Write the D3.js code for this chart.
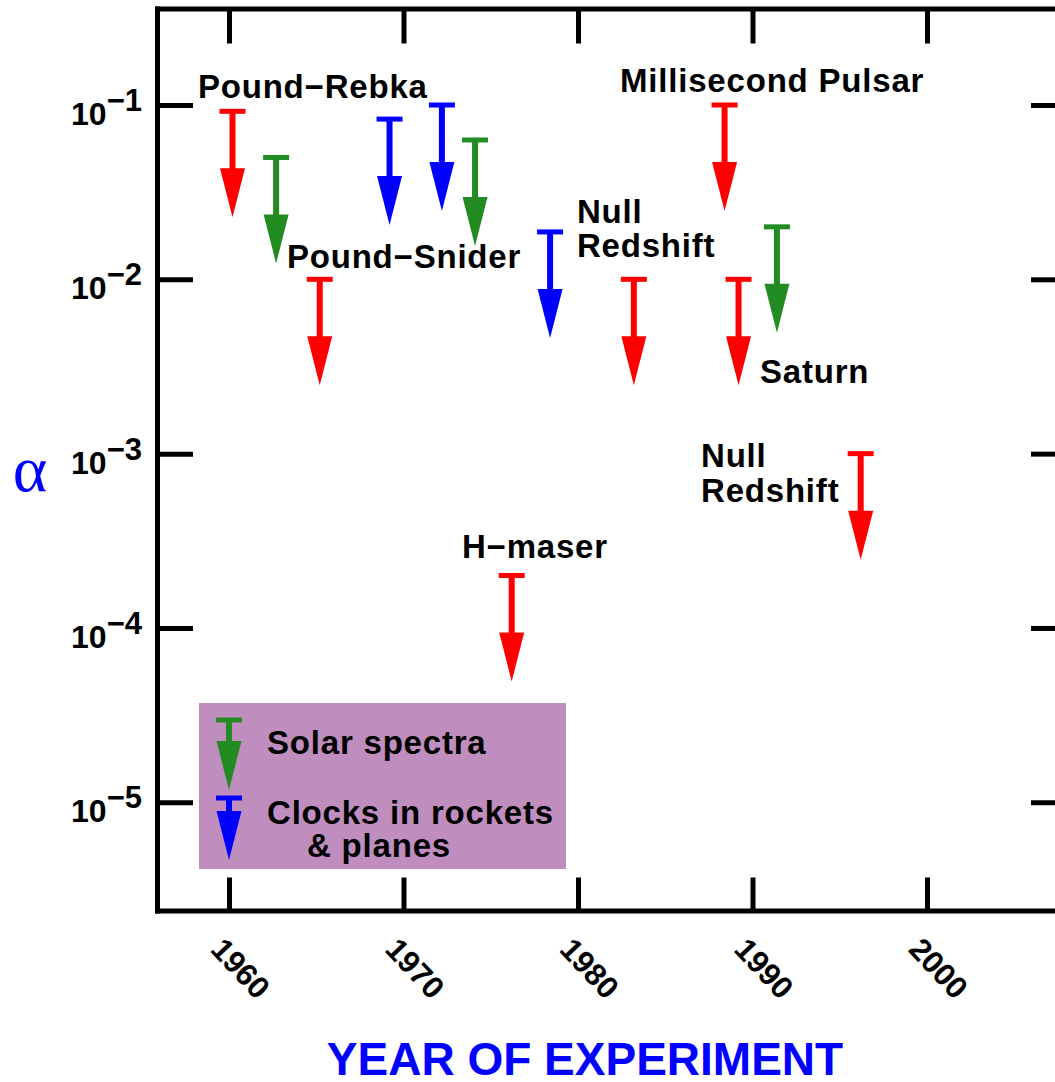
<!DOCTYPE html>
<html>
<head>
<meta charset="utf-8">
<script src="https://cdn.jsdelivr.net/npm/d3@7"></script>
<style>
  body { margin: 0; background: #fff; }
  svg text { font-family: "Liberation Sans", Arial, Helvetica, sans-serif; font-weight: bold; }
</style>
</head>
<body>
<main></main>
<script>
// upper limits on alpha
const years   = [1960.2, 1962.7, 1965.2, 1969.2, 1972.2, 1974.1, 1976.2, 1978.4, 1983.2, 1988.4, 1989.2, 1991.4, 1996.2];
const limits  = [0.092, 0.05, 0.01, 0.083, 0.1, 0.063, 0.0002, 0.0187, 0.01, 0.1, 0.01, 0.02, 0.001];
const methods = ['redshift', 'solar', 'redshift', 'clock', 'clock', 'solar', 'redshift', 'clock', 'redshift', 'redshift', 'redshift', 'solar', 'redshift'];

const yearTicks  = [1960, 1970, 1980, 1990, 2000];
const alphaTicks = [1e-1, 1e-2, 1e-3, 1e-4, 1e-5];
const alphaExp   = ['\u22121', '\u22122', '\u22123', '\u22124', '\u22125'];

// experiment labels, anchored in data coordinates
const labelText  = [['Pound\u2212Rebka'], ['Pound\u2212Snider'], ['Millisecond Pulsar'], ['Null', 'Redshift'], ['Saturn'], ['Null', 'Redshift'], ['H\u2212maser']];
const labelYear  = [1958.22, 1963.32, 1982.41, 1979.94, 1990.43, 1987.05, 1973.35];
const labelAlpha = [0.1097, 0.01161, 0.1187, 0.02105, 0.002541, 0.000838, 0.000252];

const legendKeys  = ['solar', 'clock'];
const legendLines = [['Solar spectra'], ['Clocks in rockets', '& planes']];

const colors = { redshift: '#ff0000', solar: '#228b22', clock: '#0000ff' };

const width = 1055;
const height = 1082;
const plotL = 157, plotR = 1062, plotT = 8.5, plotB = 910.5;

let svg = d3.select('main')
  .append('svg')
  .attr('width', width)
  .attr('height', height);

const x = d3.scaleLinear()
  .domain([1960 + (plotL - 229) / 17.45, 1960 + (plotR - 229) / 17.45])
  .range([plotL, plotR]);

const y = d3.scaleLog()
  .domain([Math.pow(10, -5.621), Math.pow(10, -0.4464)])
  .range([plotB, plotT]);

/**
 * Draw one upper-limit arrow: cap bar, shaft, triangular head
 */
function draw_arrow(g, cx, cy, len, color) {
  const capW = 26, shaftW = 6, headW = 25, headH = 49;
  g.append('rect')
    .attr('x', cx - capW / 2).attr('y', cy - 2.5)
    .attr('width', capW).attr('height', 5)
    .attr('fill', color);
  g.append('rect')
    .attr('x', cx - shaftW / 2).attr('y', cy)
    .attr('width', shaftW).attr('height', len - headH + 1)
    .attr('fill', color);
  g.append('path')
    .attr('d', 'M' + (cx - headW / 2) + ',' + (cy + len - headH) +
               'L' + (cx + headW / 2) + ',' + (cy + len - headH) +
               'L' + cx + ',' + (cy + len) + 'Z')
    .attr('fill', color);
}

// axes, ticks point inward
function style_axis(g) {
  g.select('.domain').attr('stroke', '#000').attr('stroke-width', 5).attr('stroke-linecap', 'square');
  g.selectAll('.tick line').attr('stroke', '#000').attr('stroke-width', 5);
  g.selectAll('.tick text').remove();
}

svg.append('g')
  .attr('transform', 'translate(0,' + plotB + ')')
  .call(d3.axisBottom(x).tickValues(yearTicks).tickSize(-33).tickSizeOuter(0))
  .call(style_axis);

svg.append('g')
  .attr('transform', 'translate(0,' + plotT + ')')
  .call(d3.axisTop(x).tickValues(yearTicks).tickSize(-35).tickSizeOuter(0))
  .call(style_axis);

svg.append('g')
  .attr('transform', 'translate(' + plotL + ',0)')
  .call(d3.axisLeft(y).tickValues(alphaTicks).tickSize(-36).tickSizeOuter(0))
  .call(style_axis);

svg.append('g')
  .attr('transform', 'translate(' + plotR + ',0)')
  .call(d3.axisRight(y).tickValues(alphaTicks).tickSize(-31).tickSizeOuter(0))
  .call(style_axis);

// y tick labels as 10^n
alphaTicks.forEach(function (v, i) {
  let t = svg.append('text')
    .attr('x', 142)
    .attr('y', y(v) + 20)
    .attr('text-anchor', 'end')
    .attr('font-size', 32);
  t.append('tspan').text('10');
  t.append('tspan').attr('dy', -14).attr('font-size', 31).text(alphaExp[i]);
});

// x tick labels, rotated
svg.selectAll('.xlab')
  .data(yearTicks)
  .enter()
  .append('text')
  .attr('class', 'xlab')
  .attr('text-anchor', 'middle')
  .attr('font-size', 31)
  .attr('dy', '0.36em')
  .attr('transform', function (d) {
    return 'translate(' + (x(d) + 12) + ',968) rotate(47)';
  })
  .text(function (d) { return d; });

// axis titles
svg.append('text')
  .attr('x', 585)
  .attr('y', 1075)
  .attr('text-anchor', 'middle')
  .attr('font-size', 46)
  .attr('fill', '#0000ff')
  .text('YEAR OF EXPERIMENT');

svg.append('text')
  .attr('x', 30)
  .attr('y', 491)
  .attr('text-anchor', 'middle')
  .style('font-family', '"Liberation Serif", "DejaVu Serif", serif')
  .style('font-weight', 'normal')
  .attr('font-size', 66)
  .attr('fill', '#0000ff')
  .text('\u03b1');

// legend box
let legend = svg.append('g');
legend.append('rect')
  .attr('x', 199).attr('y', 703)
  .attr('width', 367).attr('height', 166)
  .attr('fill', '#bf8ebf');

const legendCap = [720, 798];
const legendLen = [70, 62];
legendKeys.forEach(function (k, i) {
  draw_arrow(legend, 229, legendCap[i], legendLen[i], colors[k]);
  legendLines[i].forEach(function (s, j) {
    legend.append('text')
      .attr('x', j === 0 ? 267 : 307)
      .attr('y', (i === 0 ? 754 : 824) + j * 33)
      .attr('font-size', 33)
      .attr('letter-spacing', 0.8)
      .text(s);
  });
});

// data arrows
let marks = svg.append('g');
years.forEach(function (yr, i) {
  draw_arrow(marks, x(yr), y(limits[i]), 106, colors[methods[i]]);
});

// experiment labels
labelText.forEach(function (lines, i) {
  let t = svg.append('text')
    .attr('x', x(labelYear[i]))
    .attr('y', y(labelAlpha[i]))
    .attr('font-size', 33)
    .attr('letter-spacing', 0.8);
  lines.forEach(function (s, j) {
    t.append('tspan')
      .attr('x', x(labelYear[i]))
      .attr('dy', j === 0 ? 0 : 34.5)
      .text(s);
  });
});
</script>
</body>
</html>
